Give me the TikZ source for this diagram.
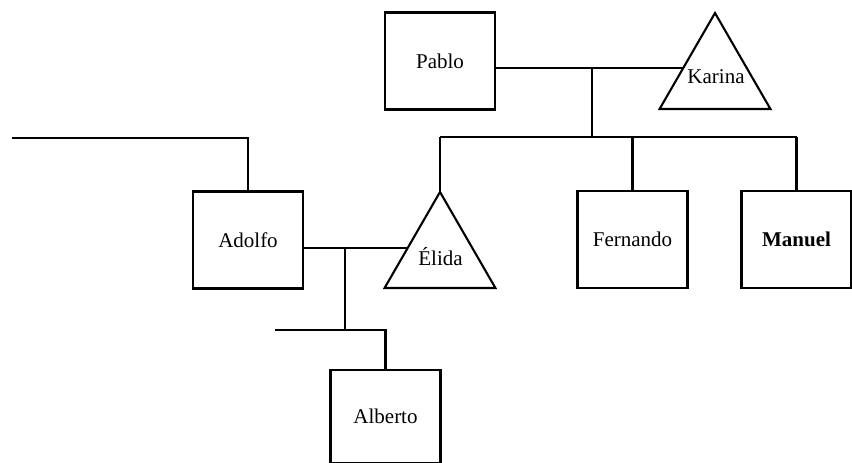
\documentclass[tikz,border=0pt]{standalone}
\usepackage{fontspec}
\setmainfont{Liberation Serif}
\usetikzlibrary{shapes.geometric}
\begin{document}
\begin{tikzpicture}[x=1pt,y=-1pt,line width=2.1pt,
  lbl/.style={font=\fontsize{21}{24}\selectfont},
  person/.style={draw,line width=2.1pt,minimum width=110pt,minimum height=97pt,inner sep=0pt,outer sep=0pt,lbl},
  female/.style={draw,line width=2.1pt,regular polygon,regular polygon sides=3,minimum size=128pt,inner sep=0pt,outer sep=0pt}]
\useasboundingbox (0,0) rectangle (852,463);
\clip (0,0) rectangle (852,463);
\node[person] (pablo) at (440,61) {Pablo};
\node[female] (karina) at (715,77) {};
\node[lbl] (karinat) at (716,77) {Karina};
\node[person] (adolfo) at (248,240) {Adolfo};
\node[female] (elida) at (440,256) {};
\node[lbl] (elidat) at (440.5,257) {Élida};
\node[person] (fernando) at (632.5,239.5) {Fernando};
\node[person,font=\fontsize{21}{24}\selectfont\bfseries] (manuel) at (796.5,239.5) {Manuel};
\node[person,minimum height=93pt] (alberto) at (385.5,416.5) {Alberto};
\coordinate (pk) at (592,68);
\coordinate (sib) at (592,137);
\coordinate (lstart) at (12,138);
\coordinate (ae) at (345,248);
\coordinate (ab) at (345,330);
\coordinate (lb) at (275,330);
% Pablo -- Karina
\draw (pablo.east |- karina.164) -- (karina.164);
\draw (pk) -- (sib);
\draw (elida.corner 1 |- sib) -- (manuel.north |- sib);
\draw (elida.corner 1 |- sib) -- (elida.corner 1);
\draw (fernando.north |- sib) -- (fernando.north);
\draw (manuel.north |- sib) -- (manuel.north);
% Adolfo's parents
\draw (lstart) -| (adolfo.north);
% Adolfo -- Elida
\draw (adolfo.east |- elida.166) -- (elida.166);
\draw (ae) -- (ab);
\draw (lb) -| (alberto.north);
\end{tikzpicture}
\end{document}
